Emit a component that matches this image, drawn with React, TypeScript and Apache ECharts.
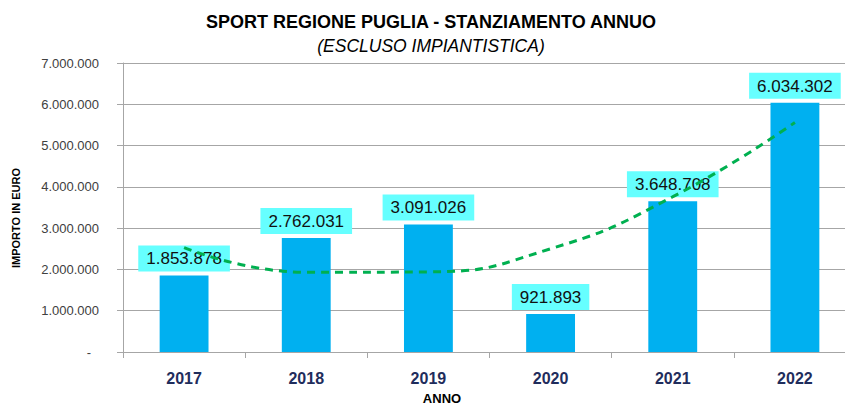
import React, { useEffect, useRef } from "react";
import * as echarts from "echarts";

const years = ["2017", "2018", "2019", "2020", "2021", "2022"];
const amounts = [1853878, 2762031, 3091026, 921893, 3648708, 6034302];
const trend = [2530000, 1930000, 1940000, 2500000, 3760000, 5560000];
const yMax = 7000000;
const yStep = 1000000;

const fmt = (v: number) =>
  String(Math.round(v)).replace(/\B(?=(\d{3})+(?!\d))/g, ".");

export default function App() {
  const ref = useRef<HTMLDivElement>(null);
  useEffect(() => {
    if (!ref.current) return;
    const chart = echarts.init(ref.current, undefined, { renderer: "svg" });
    const font = "'Liberation Sans', Arial, sans-serif";
    chart.setOption({
      animation: false,
      backgroundColor: "#ffffff",
      textStyle: { fontFamily: font },
      grid: { left: 123, right: -11, top: 63, bottom: 54, outerBoundsMode: "none", containLabel: false },
      graphic: [
        {
          type: "text",
          x: 431,
          y: 22,
          style: {
            text: "SPORT REGIONE PUGLIA - STANZIAMENTO ANNUO",
            fontFamily: font,
            fontSize: 18,
            fontWeight: "bold",
            fill: "#000",
            align: "center",
            verticalAlign: "middle",
          },
        },
        {
          type: "text",
          x: 431,
          y: 46,
          style: {
            text: "(ESCLUSO IMPIANTISTICA)",
            fontFamily: font,
            fontSize: 17.5,
            fontStyle: "italic",
            fill: "#000",
            align: "center",
            verticalAlign: "middle",
          },
        },
        {
          type: "text",
          x: 442,
          y: 398,
          style: {
            text: "ANNO",
            fontFamily: font,
            fontSize: 13,
            fontWeight: "bold",
            fill: "#000",
            align: "center",
            verticalAlign: "middle",
          },
        },
        {
          type: "text",
          x: 16,
          y: 218,
          rotation: Math.PI / 2,
          style: {
            text: "IMPORTO IN EURO",
            fontFamily: font,
            fontSize: 11,
            fontWeight: "bold",
            fill: "#000",
            align: "center",
            verticalAlign: "middle",
          },
        },
      ],
      xAxis: {
        type: "category",
        data: years,
        axisLine: { lineStyle: { color: "#a6a6a6", width: 1 } },
        axisTick: { show: true, length: 6, lineStyle: { color: "#a6a6a6" } },
        axisLabel: {
          margin: 18,
          fontSize: 16,
          fontWeight: "bold",
          color: "#1f2d5c",
          fontFamily: font,
        },
      },
      yAxis: {
        type: "value",
        min: 0,
        max: yMax,
        interval: yStep,
        axisLine: { show: true, lineStyle: { color: "#a6a6a6", width: 1 } },
        axisTick: { show: true, length: 6, lineStyle: { color: "#a6a6a6" } },
        splitLine: { lineStyle: { color: "#a6a6a6", width: 1 } },
        axisLabel: {
          margin: 24,
          fontSize: 13,
          color: "#404040",
          fontFamily: font,
          formatter: (v: number) => (v === 0 ? "{d|-}" : fmt(v)),
          rich: { d: { padding: [0, 8, 0, 0], fontSize: 13, color: "#404040" } },
        },
      },
      series: [
        {
          type: "bar",
          data: amounts,
          barWidth: "40%",
          itemStyle: { color: "#00b0f0" },
          z: 2,
          label: {
            show: true,
            position: "top",
            distance: 4,
            formatter: (p: any) => fmt(p.value),
            fontSize: 17,
            color: "#111",
            fontFamily: font,
            backgroundColor: "#66ffff",
            padding: [5, 8, 4, 8],
          },
        },
        {
          type: "line",
          data: trend,
          smooth: 0.5,
          symbol: "none",
          z: 10,
          lineStyle: { color: "#00b050", width: 3, type: [8, 6] },
        },
      ],
    });
    return () => chart.dispose();
  }, []);
  return (
    <div
      ref={ref}
      style={{ position: "absolute", left: 0, top: 0, width: 845, height: 406 }}
    />
  );
}
